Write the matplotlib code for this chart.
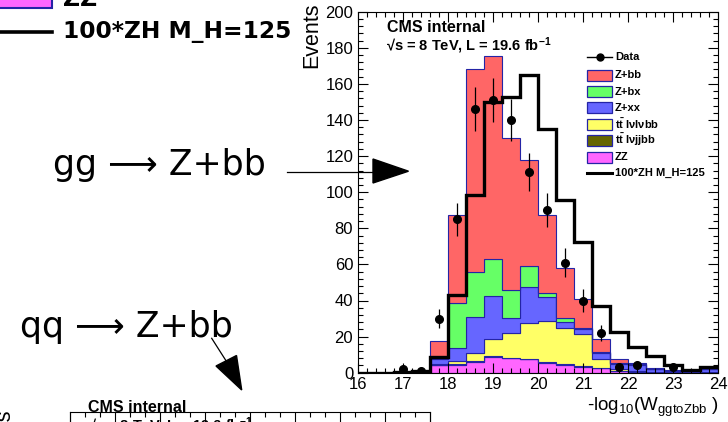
import numpy as np
import matplotlib
matplotlib.use("Agg")
import matplotlib.pyplot as plt
from matplotlib.transforms import Affine2D
from matplotlib.patches import Rectangle, Polygon
from matplotlib.lines import Line2D
from matplotlib.ticker import MultipleLocator, NullFormatter

plt.rcParams['font.family'] = ['Liberation Sans', 'DejaVu Sans']
plt.rcParams['mathtext.fontset'] = 'custom'
plt.rcParams['mathtext.rm'] = 'Liberation Sans'
plt.rcParams['mathtext.it'] = 'Liberation Sans:italic'
plt.rcParams['mathtext.bf'] = 'Liberation Sans:bold'

# ---------------- data ----------------
bin_lo, bin_hi, n_bins = 16.0, 24.0, 20
data_counts = [0, 0, 2, 1, 30, 85, 146, 151, 140, 111, 90, 61, 40, 22, 3, 4, 0, 3, 0, 0]
zz      = [0, 0, 0, 0, 4.2, 4.5, 6.0, 8.9, 8.0, 7.4, 5.6, 4.3, 3.3, 2.4, 1.0, 0.5, 0.2, 0.1, 0.0, 0.1]
tt_lvjj = [0, 0, 0, 0, 0.2, 0.3, 0.3, 0.3, 0.3, 0.3, 0.3, 0.3, 0.3, 0.2, 0.2, 0.1, 0.1, 0.0, 0.0, 0.0]
tt_lvlv = [0, 0, 0, 0, 0.6, 1.7, 4.5, 9.3, 13.7, 20.1, 23.0, 20.4, 17.7, 4.8, 0.7, 0.6, 0.2, 0.2, 0.1, 0.2]
z_xx    = [0, 0, 0, 0, 2.5, 7.0, 20.2, 23.9, 8.2, 19.6, 13.3, 3.0, 2.8, 3.4, 3.1, 3.1, 1.4, 0.6, 0.1, 1.7]
z_bx    = [0, 0, 0, 0, 1.0, 25.0, 25.0, 20.6, 15.8, 11.5, 2.2, 2.2, 0.9, 0.9, 0.3, 0.5, 0.3, 0.3, 0.05, 0.2]
z_bb    = [0, 0, 0, 0, 9.3, 49.1, 112.5, 112.5, 84.2, 58.9, 43.2, 27.8, 15.8, 6.8, 2.1, 0.8, 0.2, 0.1, 0.05, 0.3]
zh_x100 = [0, 0, 0.3, 1.2, 8.9, 43.0, 98.7, 150.0, 153.0, 164.8, 135.0, 95.6, 72.2, 37.0, 22.8, 14.4, 9.3, 4.3, 1.5, 3.3]

x_ticks = [16, 17, 18, 19, 20, 21, 22, 23, 24]
y_ticks = [0, 20, 40, 60, 80, 100, 120, 140, 160, 180, 200]

legend_labels = ["Data", "Z+bb", "Z+bx", "Z+xx", r"$\mathbf{t\bar{t}}$ lνlνbb",
                 r"$\mathbf{t\bar{t}}$ lνjjbb", "ZZ", "100*ZH M_H=125"]

RED, GREEN, BLUE, YELLOW, OLIVE, MAGENTA = '#ff6666', '#66ff66', '#6666ff', '#ffff66', '#666600', '#ff66ff'
NAVY = '#2424a6'

# ---------------- figure ----------------
W, H = 728, 422
fig = plt.figure(figsize=(W / 100, H / 100), dpi=100)
PX = Affine2D().scale(1 / W, -1 / H).translate(0, 1) + fig.transFigure

ax = fig.add_axes([358 / W, 1 - 372.7 / H, 360 / W, 361 / H])
edges = np.linspace(bin_lo, bin_hi, n_bins + 1)
centers = 0.5 * (edges[:-1] + edges[1:])

bottom = np.zeros(n_bins)
for vals, col in [(zz, MAGENTA), (tt_lvjj, OLIVE), (tt_lvlv, YELLOW),
                  (z_xx, BLUE), (z_bx, GREEN), (z_bb, RED)]:
    top = bottom + np.asarray(vals)
    ax.stairs(top, edges, baseline=bottom, fill=True, facecolor=col,
              edgecolor=NAVY, linewidth=0.8)
    bottom = top

ax.stairs(zh_x100, edges, baseline=None, color='black', linewidth=2.4, zorder=3)

d = np.asarray(data_counts, dtype=float)
m = d > 0
ax.errorbar(centers[m], d[m], yerr=np.sqrt(d[m]), fmt='o', color='black',
            ms=5.5, elinewidth=0.9, capsize=0, zorder=4)

ax.set_xlim(bin_lo, bin_hi)
ax.set_ylim(0, 200)
ax.set_xticks(x_ticks)
ax.set_yticks(y_ticks)
ax.xaxis.set_minor_locator(MultipleLocator(0.2))
ax.yaxis.set_minor_locator(MultipleLocator(4))
ax.tick_params(which='both', direction='in', top=True, right=True, width=0.8, labelsize=12)
ax.tick_params(which='major', length=7.5)
ax.tick_params(which='minor', length=3.8)
ax.tick_params(axis='y', pad=3.5)
ax.tick_params(axis='x', pad=3)
for s in ax.spines.values():
    s.set_linewidth(0.8)

# axis titles
fig.text(311.5, 3, "Events", transform=PX, rotation=90, ha='center', va='top', fontsize=15.5)
fig.text(719, 411, r"-log$_{10}$(W$_{\mathrm{ggtoZbb}}$ )", transform=PX, ha='right',
         va='baseline', fontsize=13.5)

# CMS labels
fig.text(387, 32, "CMS internal", transform=PX, fontsize=11.5, fontweight='bold', va='baseline')
fig.text(386, 51, r"√s = 8 TeV, L = 19.6 fb$^{\mathbf{-1}}$", transform=PX, fontsize=10.5,
         fontweight='bold', va='baseline')

# legend (drawn inside the main axes region)
leg_y = [57.3, 75, 91.7, 107.7, 124, 140, 157.3, 173.3]
leg_fill = [None, RED, GREEN, BLUE, YELLOW, OLIVE, MAGENTA, None]
for yy, lab, fc in zip(leg_y, legend_labels, leg_fill):
    if lab == "Data":
        fig.add_artist(Line2D([587, 612], [yy, yy], transform=PX, color='black', lw=1))
        fig.add_artist(Line2D([599.5], [yy], transform=PX, marker='o', ms=5, color='black'))
    elif fc is None:
        fig.add_artist(Line2D([587, 612], [yy, yy], transform=PX, color='black', lw=2.2))
    else:
        fig.add_artist(Rectangle((587, yy - 5.5), 25, 11, transform=PX, facecolor=fc,
                                 edgecolor=NAVY, lw=0.9))
    fig.text(615, yy, lab, transform=PX, fontsize=8, fontweight='bold', va='center')

# ---------------- slide decorations ----------------
# partial enlarged legend at top-left
fig.add_artist(Rectangle((-5, -25), 57, 33.3, transform=PX, facecolor=MAGENTA,
                         edgecolor=NAVY, lw=1.5))
fig.text(63, 6.5, "ZZ", transform=PX, fontsize=17, fontweight='bold', va='baseline',
         family='DejaVu Sans')
fig.add_artist(Line2D([0, 52], [31.7, 31.7], transform=PX, color='black', lw=2.6))
fig.text(63, 38.3, "100*ZH M_H=125", transform=PX, fontsize=16.8, fontweight='bold',
         va='baseline', family='DejaVu Sans')

# process labels with arrows
fig.text(53, 175.5, "gg ⟶ Z+bb", transform=PX, fontsize=25, va='baseline', family='DejaVu Sans')
fig.add_artist(Line2D([287, 374], [171.7, 171.7], transform=PX, color='black', lw=0.9))
fig.add_artist(Polygon([(373, 159), (408.5, 171.2), (373, 183)], closed=True, transform=PX,
                       facecolor='black', edgecolor='black'))

fig.text(20, 336.7, "qq ⟶ Z+bb", transform=PX, fontsize=25, va='baseline', family='DejaVu Sans')
fig.add_artist(Line2D([211.7, 226.5], [338.3, 361.5], transform=PX, color='black', lw=0.9))
fig.add_artist(Polygon([(216, 366), (241.7, 390), (236.5, 355.5)], closed=True, transform=PX,
                       facecolor='black', edgecolor='black'))

# partially visible second plot at the bottom
ax2 = fig.add_axes([70 / W, -0.5, 360 / W, 0.5 + (422 - 411.7) / H])
ax2.set_xlim(0, 8)
ax2.set_ylim(0, 1)
ax2.xaxis.set_major_locator(MultipleLocator(1))
ax2.xaxis.set_minor_locator(MultipleLocator(1 / 3))
ax2.xaxis.set_major_formatter(NullFormatter())
ax2.set_yticks([])
ax2.tick_params(which='both', direction='in', top=True, bottom=False, labeltop=False,
                labelbottom=False, width=0.8)
ax2.tick_params(which='major', length=7.5)
ax2.tick_params(which='minor', length=3.8)
for s in ax2.spines.values():
    s.set_linewidth(0.8)
fig.text(88, 411.5, "CMS internal", transform=PX, fontsize=11.5, fontweight='bold', va='baseline')
fig.text(87, 430.5, r"√s = 8 TeV, L = 19.6 fb$^{\mathbf{-1}}$", transform=PX, fontsize=10.5,
         fontweight='bold', va='baseline')
fig.text(4, 409, "Events", transform=PX, rotation=90, ha='center', va='top', fontsize=15.5)

fig.savefig("out.png", dpi=100)
